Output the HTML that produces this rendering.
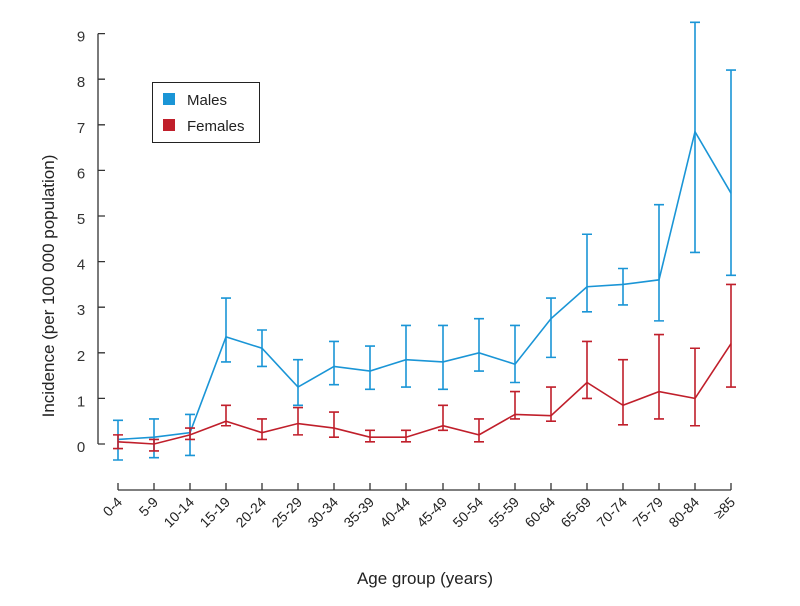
<!DOCTYPE html>
<html><head><meta charset="utf-8"><style>
html,body{margin:0;padding:0;background:#fff;}
svg{display:block;font-family:"Liberation Sans",sans-serif;}
</style></head><body>
<svg width="800" height="606" viewBox="0 0 800 606" xmlns="http://www.w3.org/2000/svg">
<path d="M98 33.6V444M98 444h7M98 398.4h7M98 352.8h7M98 307.2h7M98 261.6h7M98 216h7M98 170.4h7M98 124.8h7M98 79.2h7M98 33.6h7" stroke="#333" stroke-width="1.3" fill="none"/>
<g font-size="15" fill="#333" text-anchor="middle">
<text x="81" y="452">0</text><text x="81" y="406.4">1</text><text x="81" y="360.8">2</text>
<text x="81" y="315.2">3</text><text x="81" y="269.6">4</text><text x="81" y="224">5</text>
<text x="81" y="178.4">6</text><text x="81" y="132.8">7</text><text x="81" y="87.2">8</text>
<text x="81" y="41.6">9</text>
</g>
<text transform="translate(54,286) rotate(-90)" font-size="17" fill="#222" text-anchor="middle">Incidence (per 100 000 population)</text>
<path d="M118 490H731M118 490v-7M154 490v-7M190 490v-7M226 490v-7M262 490v-7M298 490v-7M334 490v-7M370 490v-7M406 490v-7M443 490v-7M479 490v-7M515 490v-7M551 490v-7M587 490v-7M623 490v-7M659 490v-7M695 490v-7M731 490v-7" stroke="#333" stroke-width="1.3" fill="none"/>
<g font-size="14" fill="#222" text-anchor="end">
<text transform="translate(123,503) rotate(-45)">0-4</text>
<text transform="translate(159,503) rotate(-45)">5-9</text>
<text transform="translate(195,503) rotate(-45)">10-14</text>
<text transform="translate(231,503) rotate(-45)">15-19</text>
<text transform="translate(267,503) rotate(-45)">20-24</text>
<text transform="translate(303,503) rotate(-45)">25-29</text>
<text transform="translate(339,503) rotate(-45)">30-34</text>
<text transform="translate(375,503) rotate(-45)">35-39</text>
<text transform="translate(411,503) rotate(-45)">40-44</text>
<text transform="translate(448,503) rotate(-45)">45-49</text>
<text transform="translate(484,503) rotate(-45)">50-54</text>
<text transform="translate(520,503) rotate(-45)">55-59</text>
<text transform="translate(556,503) rotate(-45)">60-64</text>
<text transform="translate(592,503) rotate(-45)">65-69</text>
<text transform="translate(628,503) rotate(-45)">70-74</text>
<text transform="translate(664,503) rotate(-45)">75-79</text>
<text transform="translate(700,503) rotate(-45)">80-84</text>
<text transform="translate(736,503) rotate(-45)">≥85</text>
</g>
<text x="425" y="584" font-size="17" fill="#222" text-anchor="middle">Age group (years)</text>
<g transform="translate(0,444) scale(1,1.0133) translate(0,-440)">
<!-- Males -->
<g stroke="#1a95d6" stroke-width="1.6" fill="none" vector-effect="non-scaling-stroke">
<polyline vector-effect="non-scaling-stroke" points="118,435.5 154,433.3 190,428.8 226,334.3 262,345.5 298,383.8 334,363.5 370,368 406,356.8 443,359 479,350 515,361.3 551,316.3 587,284.8 623,282.5 659,278 695,131.8 731,192.5"/>
<path vector-effect="non-scaling-stroke" d="M118 416.6V455.8M113 416.6h10M113 455.8h10
M154 415.3V453.5M149 415.3h10M149 453.5h10
M190 410.8V451.3M185 410.8h10M185 451.3h10
M226 296V359M221 296h10M221 359h10
M262 327.5V363.5M257 327.5h10M257 363.5h10
M298 356.8V401.8M293 356.8h10M293 401.8h10
M334 338.8V381.5M329 338.8h10M329 381.5h10
M370 343.3V386M365 343.3h10M365 386h10
M406 323V383.8M401 323h10M401 383.8h10
M443 323V386M438 323h10M438 386h10
M479 316.3V368M474 316.3h10M474 368h10
M515 323V379.3M510 323h10M510 379.3h10
M551 296V354.5M546 296h10M546 354.5h10
M587 233V309.5M582 233h10M582 309.5h10
M623 266.8V302.8M618 266.8h10M618 302.8h10
M659 203.8V318.5M654 203.8h10M654 318.5h10
M695 23.8V251M690 23.8h10M690 251h10
M731 71V273.5M726 71h10M726 273.5h10"/>
</g>
<!-- Females -->
<g stroke="#c01f2b" stroke-width="1.6" fill="none">
<polyline vector-effect="non-scaling-stroke" points="118,437.8 154,440 190,431 226,417.5 262,428.8 298,419.8 334,424.3 370,433.3 406,433.3 443,422 479,431 515,410.8 551,412.1 587,379.3 623,401.8 659,388.3 695,395 731,341"/>
<path vector-effect="non-scaling-stroke" d="M118 431V444.5M113 431h10M113 444.5h10
M154 435.5V446.8M149 435.5h10M149 446.8h10
M190 424.3V435.5M185 424.3h10M185 435.5h10
M226 401.8V422M221 401.8h10M221 422h10
M262 415.3V435.5M257 415.3h10M257 435.5h10
M298 404V431M293 404h10M293 431h10
M334 408.5V433.3M329 408.5h10M329 433.3h10
M370 426.5V437.8M365 426.5h10M365 437.8h10
M406 426.5V437.8M401 426.5h10M401 437.8h10
M443 401.8V426.5M438 401.8h10M438 426.5h10
M479 415.3V437.8M474 415.3h10M474 437.8h10
M515 388.3V415.3M510 388.3h10M510 415.3h10
M551 383.8V417.5M546 383.8h10M546 417.5h10
M587 338.8V395M582 338.8h10M582 395h10
M623 356.8V421.1M618 356.8h10M618 421.1h10
M659 332V415.3M654 332h10M654 415.3h10
M695 345.5V422M690 345.5h10M690 422h10
M731 282.5V383.8M726 282.5h10M726 383.8h10"/>
</g>
</g>
<!-- Legend -->
<rect x="152.5" y="82.5" width="107" height="60" fill="#fff" stroke="#222" stroke-width="1"/>
<rect x="163" y="93" width="12" height="12" fill="#1a95d6"/>
<text x="187" y="105" font-size="15" fill="#222">Males</text>
<rect x="163" y="119" width="12" height="12" fill="#c01f2b"/>
<text x="187" y="131" font-size="15" fill="#222">Females</text>
</svg>
</body></html>
